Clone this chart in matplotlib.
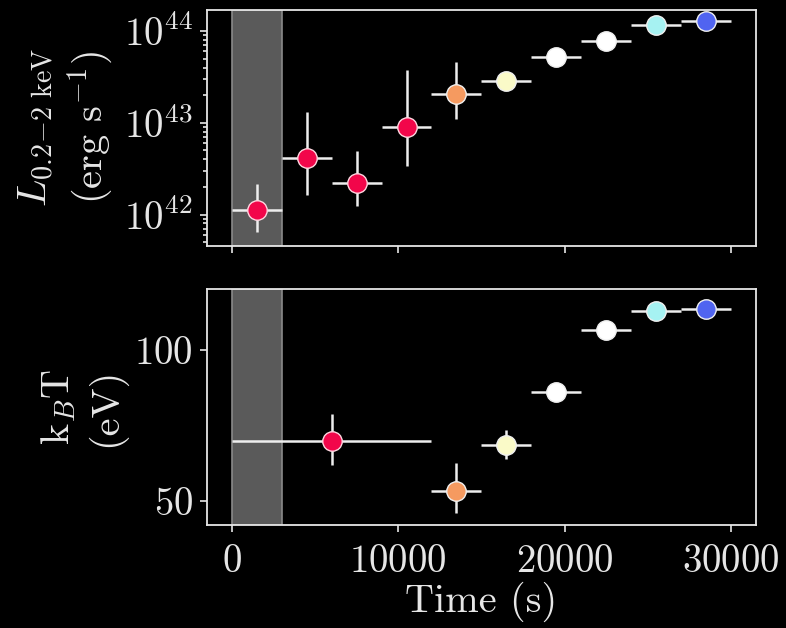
import matplotlib
matplotlib.use("Agg")
import matplotlib.pyplot as plt
import numpy as np

# ---- data ----
time_L = [1500, 4500, 7500, 10500, 13500, 16500, 19500, 22500, 25500, 28500]
time_L_err = [1500, 1500, 1500, 1500, 1500, 1500, 1500, 1500, 1500, 1500]
logL = [42.055, 42.613, 42.348, 42.951, 43.31, 43.46, 43.72, 43.89, 44.07, 44.11]
logL_hi = [42.337, 43.122, 42.698, 43.58, 43.66, 43.50, 43.74, 43.91, 44.09, 44.13]
logL_lo = [41.805, 42.216, 42.09, 42.53, 43.04, 43.42, 43.70, 43.87, 44.05, 44.09]
colors_L = ["#f2064a", "#f2064a", "#f2064a", "#f2064a", "#f59a60", "#fafac8",
            "#ffffff", "#ffffff", "#a6f2f2", "#5064f0"]

time_T = [6000, 13500, 16500, 19500, 22500, 25500, 28500]
time_T_err = [6000, 1500, 1500, 1500, 1500, 1500, 1500]
kT = [70.0, 53.3, 68.7, 86.1, 106.7, 113.1, 113.6]
kT_hi = [78.9, 62.8, 73.7, 86.6, 107.2, 113.6, 114.1]
kT_lo = [62.2, 46.1, 64.1, 85.6, 106.2, 112.6, 113.1]
colors_T = ["#f2064a", "#f59a60", "#fafac8", "#ffffff", "#ffffff", "#a6f2f2", "#5064f0"]

band = [0, 3000]

plt.rcParams.update({
    "font.family": "serif",
    "font.serif": ["cmr10"],
    "mathtext.fontset": "cm",
    "axes.formatter.use_mathtext": True,
    "font.size": 28,
    "axes.unicode_minus": False,
})

fg = "#e6e6e6"
fig, (ax1, ax2) = plt.subplots(2, 1, figsize=(7.86, 6.28), dpi=100, sharex=True)
fig.patch.set_facecolor("black")
fig.subplots_adjust(left=0.263, right=0.962, top=0.984, bottom=0.164, hspace=0.185)

for ax in (ax1, ax2):
    ax.set_facecolor("black")
    for s in ax.spines.values():
        s.set_color(fg)
        s.set_linewidth(1.3)
    ax.tick_params(colors=fg, which="both", direction="out", width=1.2)
    ax.tick_params(which="major", length=5, labelsize=28, pad=5)
    ax.tick_params(which="minor", length=3)
    ax.axvspan(band[0], band[1], facecolor="#5a5a5a", edgecolor="#8a8a8a", lw=1.2, zorder=0)
ax2.tick_params(axis="x", pad=9)

L = 10 ** np.array(logL)
Lhi = 10 ** np.array(logL_hi)
Llo = 10 ** np.array(logL_lo)
for i in range(len(time_L)):
    ax1.errorbar(time_L[i], L[i], xerr=time_L_err[i],
                 yerr=[[L[i] - Llo[i]], [Lhi[i] - L[i]]],
                 fmt="o", color=colors_L[i], ecolor="#eeeeee", elinewidth=1.8,
                 ms=14, mec="#ffd6e0" if i < 4 else "#f0f0f0", mew=1.0, capsize=0, zorder=3)
ax1.set_yscale("log")
ax1.set_ylim(10 ** 41.66, 10 ** 44.23)
ax1.set_ylabel("$L_{0.2\\!-\\!2\\ \\rm keV}$\n(erg s$^{-1}$)", color=fg, fontsize=29,
               linespacing=1.25, labelpad=6)

for i in range(len(time_T)):
    ax2.errorbar(time_T[i], kT[i], xerr=time_T_err[i],
                 yerr=[[kT[i] - kT_lo[i]], [kT_hi[i] - kT[i]]],
                 fmt="o", color=colors_T[i], ecolor="#eeeeee", elinewidth=1.8,
                 ms=14, mec="#ffd6e0" if i == 0 else "#f0f0f0", mew=1.0, capsize=0, zorder=3)
ax2.set_ylim(42.2, 120.2)
ax2.set_yticks([50, 100])
ax2.set_ylabel("k$_B$T\n(eV)", color=fg, fontsize=29, linespacing=1.25, labelpad=6)
ax2.set_xlim(-1500, 31500)
ax2.set_xticks([0, 10000, 20000, 30000])
ax2.set_xlabel("Time (s)", color=fg, fontsize=29, labelpad=1)

fig.savefig("out.png", dpi=100, facecolor="black")
